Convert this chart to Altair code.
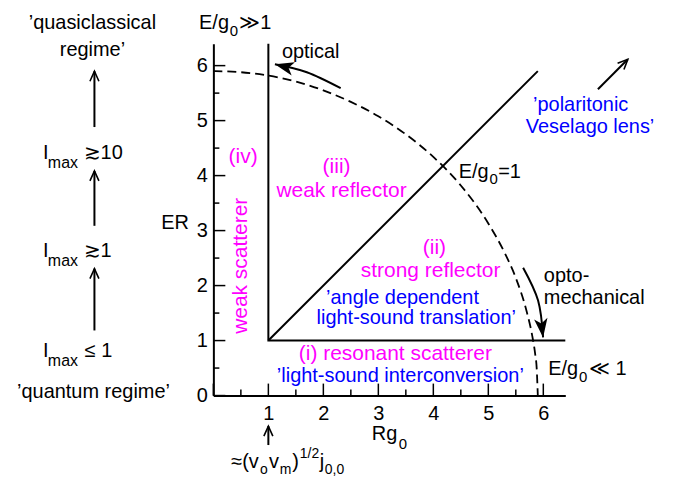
import altair as alt
import pandas as pd

FONT = "Liberation Sans"
MAG = "#ff00ff"
BLUE = "#0000ff"
BLK = "#000000"

# ---- axis tick values ----
x_labels = [1, 2, 3, 4, 5, 6]
y_labels = [0, 1, 2, 3, 4, 5, 6]
major_ticks = [0, 1, 2, 3, 4, 5, 6]
minor_ticks = [0.5, 1.5, 2.5, 3.5, 4.5, 5.5]

# ---- dashed crossover curve (Rg0, ER) ----
curve_x = [0.0, 0.5, 1.0, 1.5, 2.0, 2.5, 3.0, 3.5, 4.0, 4.5, 5.0, 5.3, 5.5, 5.7, 5.8, 5.85, 5.88, 5.9]
curve_y = [5.9, 5.88, 5.82, 5.71, 5.55, 5.34, 5.08, 4.75, 4.34, 3.82, 3.13, 2.59, 2.14, 1.52, 1.08, 0.77, 0.49, 0.0]

# ---- solid region boundaries ----
frame_x = [1.0, 1.0, 6.4]
frame_y = [6.4, 1.0, 1.0]
diag_x = [1.0, 5.9]
diag_y = [1.0, 5.9]

# ---- annotation arrows (shaft points in chart units) ----
arrow_ids = ["optical", "optomech", "lens", "q1", "q2", "q3", "rg"]
arrow_xs = [[2.315, 1.70, 1.119], [5.633, 5.905, 5.996], [6.993, 7.537],
            [-2.163, -2.163], [-2.163, -2.163], [-2.163, -2.163], [1.0, 1.0]]
arrow_ys = [[5.589, 5.879, 6.024], [2.326, 1.728, 1.058], [5.571, 6.115],
            [4.883, 5.897], [3.087, 4.084], [1.184, 2.308], [-0.900, -0.556]]
# heads: filled (curved arrows) and open chevrons
filled_heads_x = [1.119, 5.996]
filled_heads_y = [6.024, 1.058]
filled_heads_angle = [284, 173]
open_heads_x = [7.537, -2.163, -2.163, -2.163, 1.0]
open_heads_y = [6.115, 5.897, 4.084, 2.308, -0.556]
open_heads_angle = [45, 0, 0, 0, 0]

# ---- centered labels ----
center_text = ["’quasiclassical", "regime’", "’quantum regime’", "(iv)", "(iii)",
               "weak reflector", "(ii)", "strong reflector", "’angle dependent",
               "light-sound translation’", "(i) resonant scatterer",
               "’light-sound interconversion’", "optical", "’polaritonic", "Veselago lens’"]
center_x = [-2.20, -2.20, -2.18, 0.54, 2.24, 2.33, 4.02, 3.95, 3.44, 3.69, 3.31, 3.40, 1.77, 6.68, 6.85]
center_y = [6.66, 6.17, -0.05, 4.23, 4.04, 3.61, 2.58, 2.15, 1.67, 1.31, 0.64, 0.24, 6.13, 5.17, 4.77]
center_color = [BLK, BLK, BLK, MAG, MAG, MAG, MAG, MAG, BLUE, BLUE, MAG, BLUE, BLK, BLUE, BLUE]
center_size = [20, 20, 20, 21, 21, 21, 21, 21, 20, 20, 21, 20, 20, 20, 20]

# ---- left aligned labels (incl. sub/superscript pieces) ----
left_text = ["opto-", "mechanical", "ER", "Rg", "0",
             "E/g", "0", "≫1",
             "E/g", "0", "=1",
             "E/g", "0", "≪ 1",
             "I", "max", "≳10",
             "I", "max", "≳1",
             "I", "max", "≤ 1",
             "≈(v", "o", "v", "m", ")", "1/2", "j", "0,0"]
left_x = [6.01, 6.01, -0.95, 2.88, 3.37,
          -0.26, 0.30, 0.47,
          4.46, 5.02, 5.18,
          6.09, 6.65, 6.83,
          -3.10, -3.01, -2.36,
          -3.10, -3.01, -2.36,
          -3.10, -3.01, -2.34,
          0.325, 0.847, 1.010, 1.209, 1.436, 1.572, 1.934, 2.027]
left_y = [2.07, 1.67, 3.03, -0.81, -0.98,
          6.66, 6.53, 6.66,
          3.96, 3.85, 3.96,
          0.37, 0.24, 0.37,
          4.30, 4.14, 4.30,
          2.52, 2.36, 2.52,
          0.70, 0.53, 0.70,
          -1.318, -1.427, -1.318, -1.427, -1.318, -1.137, -1.318, -1.427]
left_size = [20, 20, 20, 20, 15,
             20, 15, 20,
             20, 15, 20,
             20, 15, 20,
             20, 16, 20,
             20, 16, 20,
             20, 16, 20,
             20, 14, 20, 14, 20, 14, 20, 14]

# ---- tables ----
curve_df = pd.DataFrame({"x": curve_x, "y": curve_y, "order": range(len(curve_x))})
lines_df = pd.DataFrame(
    [{"seg": "frame", "order": i, "x": a, "y": b} for i, (a, b) in enumerate(zip(frame_x, frame_y))]
    + [{"seg": "diag", "order": i, "x": a, "y": b} for i, (a, b) in enumerate(zip(diag_x, diag_y))]
)
arrows_df = pd.DataFrame(
    [{"id": aid, "order": i, "x": a, "y": b}
     for aid, xs, ys in zip(arrow_ids, arrow_xs, arrow_ys)
     for i, (a, b) in enumerate(zip(xs, ys))]
)
fheads_df = pd.DataFrame({"x": filled_heads_x, "y": filled_heads_y, "angle": filled_heads_angle})
oheads_df = pd.DataFrame({"x": open_heads_x, "y": open_heads_y, "angle": open_heads_angle})
center_df = pd.DataFrame({"text": center_text, "x": center_x, "y": center_y,
                          "color": center_color, "size": center_size})
left_df = pd.DataFrame({"text": left_text, "x": left_x, "y": left_y, "size": left_size})
rot_df = pd.DataFrame({"text": ["weak scatterer"], "x": [0.50], "y": [2.36]})
ymaj_df = pd.DataFrame({"y": major_ticks})
ymin_df = pd.DataFrame({"y": minor_ticks})
xmaj_df = pd.DataFrame({"x": major_ticks})
xmin_df = pd.DataFrame({"x": minor_ticks})

xscale = alt.Scale(domain=[0, 6.4], nice=False, zero=False)
yscale = alt.Scale(domain=[0, 6.4], nice=False, zero=False)
X = alt.X("x:Q", scale=xscale, axis=alt.Axis(values=x_labels, title="", labelPadding=8,
                                            labelFontSize=20, labelFont=FONT, labelColor=BLK,
                                            ticks=False, grid=False, domainColor=BLK, domainWidth=2))
Y = alt.Y("y:Q", scale=yscale, axis=alt.Axis(values=y_labels, title="", labelPadding=6,
                                            labelFontSize=20, labelFont=FONT, labelColor=BLK,
                                            ticks=False, grid=False, domainColor=BLK, domainWidth=2))

dashed = alt.Chart(curve_df).mark_line(color=BLK, strokeWidth=1.8, strokeDash=[9, 5],
                                       interpolate="monotone").encode(x=X, y=Y, order="order:Q")
lines = alt.Chart(lines_df).mark_line(color=BLK, strokeWidth=2).encode(
    x=X, y=Y, detail="seg:N", order="order:Q")
shafts = alt.Chart(arrows_df).mark_line(color=BLK, strokeWidth=2, interpolate="natural").encode(
    x=X, y=Y, detail="id:N", order="order:Q")
fheads = alt.Chart(fheads_df).mark_point(
    shape="M0,0L0.55,1.55L0,1.15L-0.55,1.55Z", size=600, filled=True, color=BLK, opacity=1, strokeWidth=0
).encode(x=X, y=Y, angle=alt.Angle("angle:Q", scale=None))
oheads = alt.Chart(oheads_df).mark_point(
    shape="M-0.45,1L0,0L0.45,1", size=400, filled=False, color=BLK, opacity=1, strokeWidth=1.6
).encode(x=X, y=Y, angle=alt.Angle("angle:Q", scale=None))

yticks_major = alt.Chart(ymaj_df).mark_rule(color=BLK, strokeWidth=1.5).encode(
    y=Y, x=alt.value(0), x2=alt.value(12))
yticks_minor = alt.Chart(ymin_df).mark_rule(color=BLK, strokeWidth=1.5).encode(
    y=Y, x=alt.value(0), x2=alt.value(6))
xticks_major = alt.Chart(xmaj_df).mark_rule(color=BLK, strokeWidth=1.5).encode(
    x=X, y=alt.value(353), y2=alt.value(341))
xticks_minor = alt.Chart(xmin_df).mark_rule(color=BLK, strokeWidth=1.5).encode(
    x=X, y=alt.value(353), y2=alt.value(347))

ctext = alt.Chart(center_df).mark_text(align="center", baseline="alphabetic", font=FONT).encode(
    x=X, y=Y, text="text:N", color=alt.Color("color:N", scale=None),
    size=alt.Size("size:Q", scale=None))
ltext = alt.Chart(left_df).mark_text(align="left", baseline="alphabetic", font=FONT, color=BLK).encode(
    x=X, y=Y, text="text:N", size=alt.Size("size:Q", scale=None))
rtext = alt.Chart(rot_df).mark_text(align="center", baseline="middle", font=FONT, fontSize=21,
                                    angle=270, color=MAG).encode(x=X, y=Y, text="text:N")

chart = alt.layer(
    dashed, lines, shafts, fheads, oheads,
    yticks_major, yticks_minor, xticks_major, xticks_minor,
    ctext, ltext, rtext
).properties(
    width=353, height=353,
    padding={"left": 206, "top": 35, "right": 100, "bottom": 95},
    autosize=alt.AutoSizeParams(type="none"),
    background="white",
).configure_view(strokeWidth=0)

chart.save("out.html", embed_options={"renderer": "svg", "actions": False})
